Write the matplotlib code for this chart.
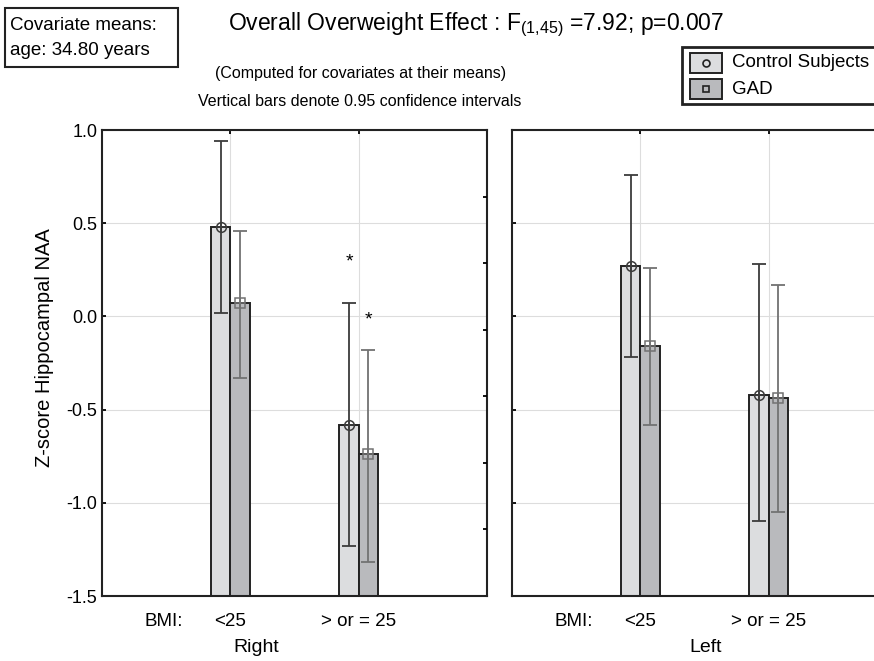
import numpy as np
import matplotlib.pyplot as plt
from matplotlib.patches import Rectangle

plt.rcParams['font.family'] = ['Liberation Sans', 'DejaVu Sans']

# data
sides = ['Right', 'Left']
bmi_levels = ['<25', '> or = 25']
groups = ['Control Subjects', 'GAD']

mean_ctrl = {'Right': [0.48, -0.58], 'Left': [0.27, -0.42]}
lo_ctrl = {'Right': [0.02, -1.23], 'Left': [-0.22, -1.10]}
hi_ctrl = {'Right': [0.94, 0.07], 'Left': [0.76, 0.28]}

mean_gad = {'Right': [0.07, -0.74], 'Left': [-0.16, -0.44]}
lo_gad = {'Right': [-0.33, -1.32], 'Left': [-0.58, -1.05]}
hi_gad = {'Right': [0.46, -0.18], 'Left': [0.26, 0.17]}

# significance stars (right side, BMI >= 25)
star_y = [0.29, -0.02]

yticks = [1.0, 0.5, 0.0, -0.5, -1.0, -1.5]
side_label_x = {'Right': 1.2, 'Left': 1.51}

c_ctrl, c_gad = '#dcdddf', '#b9babd'
e_ctrl, e_gad = '#3c3c3c', '#727272'
w = 0.15
xs = np.arange(1, len(bmi_levels) + 1)

fig = plt.figure(figsize=(8.74, 6.61), dpi=100)
axes = [fig.add_axes([0.1167, 0.0983, 0.4405, 0.705]),
        fig.add_axes([0.5858, 0.0983, 0.4405, 0.705])]

for ax, side in zip(axes, sides):
    ax.set_xlim(0, 3)
    ax.set_ylim(-1.5, 1.0)
    ax.set_axisbelow(True)
    ax.grid(True, color='#dddddd', lw=0.8)
    for s in ax.spines.values():
        s.set_linewidth(1.5)
        s.set_color('#222222')

    ax.bar(xs - w/2, np.array(mean_ctrl[side]) + 1.5, w, bottom=-1.5,
           color=c_ctrl, edgecolor='#222222', lw=1.4, zorder=2)
    ax.bar(xs + w/2, np.array(mean_gad[side]) + 1.5, w, bottom=-1.5,
           color=c_gad, edgecolor='#222222', lw=1.4, zorder=2)

    m = np.array(mean_ctrl[side])
    ax.errorbar(xs - w/2, m, yerr=[m - np.array(lo_ctrl[side]), np.array(hi_ctrl[side]) - m],
                fmt='none', ecolor=e_ctrl, elinewidth=1.3, capsize=4.7, capthick=1.3, zorder=3)
    ax.plot(xs - w/2, m, 'o', mfc='none', mec=e_ctrl, ms=7, mew=1.1, zorder=4)
    ax.plot(xs - w/2, m, '+', color=e_ctrl, ms=7, mew=1.1, zorder=4)

    m = np.array(mean_gad[side])
    ax.errorbar(xs + w/2, m, yerr=[m - np.array(lo_gad[side]), np.array(hi_gad[side]) - m],
                fmt='none', ecolor=e_gad, elinewidth=1.3, capsize=4.7, capthick=1.3, zorder=3)
    ax.plot(xs + w/2, m, 's', mfc='none', mec=e_gad, ms=6.5, mew=1.1, zorder=4)
    ax.plot(xs + w/2, m, '+', color=e_gad, ms=6.5, mew=1.1, zorder=4)

    ax.set_xticks(xs)
    ax.set_xticklabels(bmi_levels, fontsize=13.5)
    ax.tick_params(axis='x', top=True, bottom=False, direction='in', length=3,
                   width=1.3, pad=12)
    ax.set_yticks(yticks)
    ax.tick_params(axis='y', direction='in', length=3, width=1.3)
    ax.text(0.48, -0.054, 'BMI:', transform=ax.get_xaxis_transform(),
            ha='center', va='center', fontsize=13.5)
    ax.text(side_label_x[side], -0.11, side, transform=ax.get_xaxis_transform(),
            ha='center', va='center', fontsize=14)

axes[0].set_yticklabels([f'{v:.1f}' for v in yticks], fontsize=13)
axes[0].set_ylabel('Z-score Hippocampal NAA', fontsize=14.5)
axes[0].yaxis.set_label_coords(-0.125, 0.534)
axes[1].set_yticklabels([])

# secondary scale ticks on the right of the left panel
tw = axes[0].twinx()
tw.set_ylim(0, 7)
tw.set_yticks(range(1, 7))
tw.set_yticklabels([])
tw.tick_params(direction='in', length=3, width=1.3)
for s in tw.spines.values():
    s.set_visible(False)

for x, y in zip(xs[1] + np.array([-w/2, w/2]), star_y):
    axes[0].text(x, y, '*', ha='center', va='center', fontsize=14, zorder=5)

# header texts
fig.text(0.545, 0.962, 'Overall Overweight Effect : F$_{\\mathregular{(1{,}45)}}$ =7.92; p=0.007',
         ha='center', va='center', fontsize=16.5)
fig.text(0.412, 0.889, '(Computed for covariates at their means)',
         ha='center', va='center', fontsize=11.5)
fig.text(0.412, 0.847, 'Vertical bars denote 0.95 confidence intervals',
         ha='center', va='center', fontsize=11.5)

fig.patches.append(Rectangle((0.006, 0.899), 0.198, 0.089, transform=fig.transFigure,
                             fill=True, facecolor='white', edgecolor='#222222', lw=1.5))
fig.text(0.012, 0.962, 'Covariate means:', ha='left', va='center', fontsize=13.5)
fig.text(0.012, 0.924, 'age: 34.80 years', ha='left', va='center', fontsize=13.5)

# legend box
fig.patches.append(Rectangle((0.780, 0.843), 0.25, 0.086, transform=fig.transFigure,
                             fill=True, facecolor='white', edgecolor='#222222', lw=2))
for i, (g, fc, mk) in enumerate(zip(groups, [c_ctrl, c_gad], ['o', 's'])):
    yc = 0.905 - i * 0.040
    fig.patches.append(Rectangle((0.789, yc - 0.015), 0.037, 0.030, transform=fig.transFigure,
                                 facecolor=fc, edgecolor='#222222', lw=1.4))
    fig.lines.append(plt.Line2D([0.8075], [yc], transform=fig.transFigure, marker=mk,
                                ms=5, mfc='none', mec='#222222', mew=1.2))
    fig.text(0.838, yc, g, ha='left', va='center', fontsize=13.5)

fig.savefig('out.png', dpi=100)
